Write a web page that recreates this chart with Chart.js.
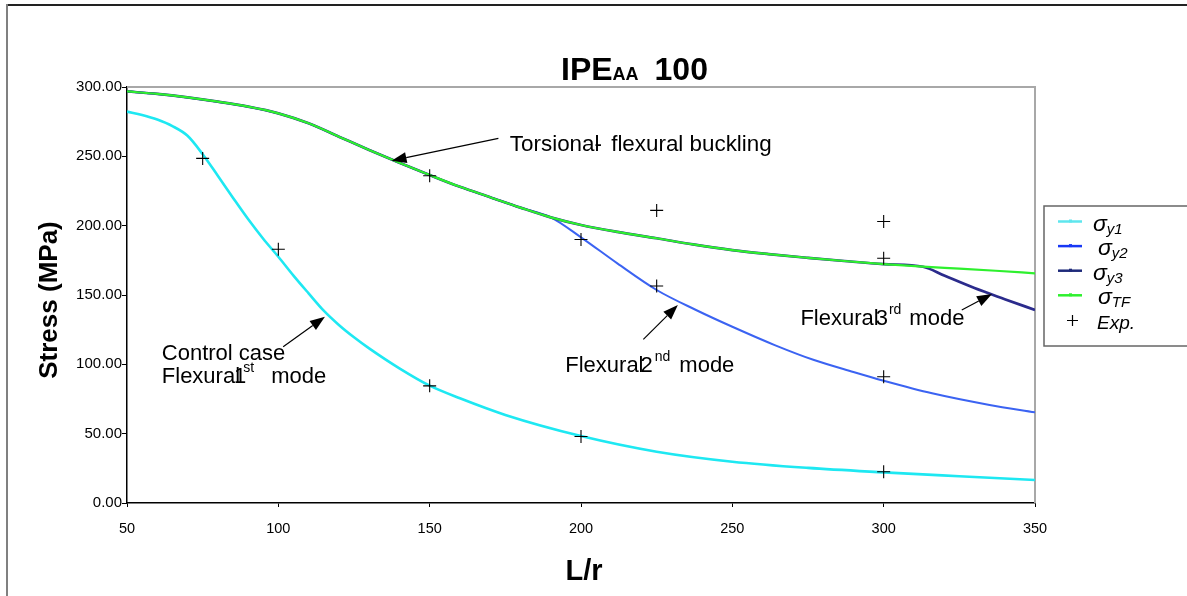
<!DOCTYPE html>
<html><head><meta charset="utf-8">
<script src="https://cdn.jsdelivr.net/npm/chart.js@4/dist/chart.umd.min.js"></script>
<style>html,body{margin:0;padding:0;background:#fff;}canvas{display:block;}</style>
</head><body>
<canvas id="c" width="1187" height="596"></canvas>
<script>
// ---- tick labels ----
const xTicks = [50, 100, 150, 200, 250, 300, 350];
const yTicks = [0, 50, 100, 150, 200, 250, 300];

// ---- sigma_y1 (flexural 1st mode) ----
const lrY1 = [50, 55, 60, 65, 70, 75, 80, 85, 90, 95, 100, 105, 110, 115, 120, 125, 130, 140, 150, 160, 175, 200, 225, 250, 275, 300, 325, 350];
const sigmaY1 = [282.3, 279.8, 276.5, 271.8, 264.8, 251.5, 236, 220.2, 204.8, 190.6, 177.6, 164, 151.2, 138.7, 128.4, 119.5, 111.5, 97.1, 84.6, 75.5, 63.5, 48.3, 37, 29.8, 25.3, 22.1, 19.3, 16.6];

// ---- sigma_y2 (flexural 2nd mode) ----
const lrY2 = [50, 60, 70, 80, 90, 100, 110, 120, 130, 140, 150, 160, 170, 180, 190, 200, 212, 225, 238, 250, 264, 277, 290, 300, 316, 335, 350];
const sigmaY2 = [296.8, 295, 292.5, 289.4, 285.8, 281, 273.8, 264.2, 254.6, 245.4, 236.5, 228, 220.5, 213, 206, 191.6, 172.8, 153.6, 139.2, 127.1, 113.9, 103.1, 94.5, 88.2, 79.1, 70.7, 65.4];

// ---- sigma_y3 (flexural 3rd mode) ----
const lrY3 = [50, 60, 70, 80, 90, 100, 110, 120, 130, 140, 150, 160, 170, 180, 190, 200, 212, 225, 237, 250, 262, 275, 287, 300, 313, 320, 330, 340, 350];
const sigmaY3 = [296.8, 295, 292.5, 289.4, 285.8, 281, 273.8, 264.2, 254.6, 245.4, 236.5, 228, 220.5, 213, 206, 200.5, 195.5, 190.9, 186.5, 182.4, 179.5, 176.8, 174.5, 172.3, 170.4, 164, 155, 147, 139.2];

// ---- sigma_TF (torsional-flexural) ----
const lrTF = [50, 60, 70, 80, 90, 100, 110, 120, 130, 140, 150, 160, 170, 180, 190, 200, 212, 225, 237, 250, 262, 275, 287, 300, 313, 325, 337, 350];
const sigmaTF = [296.8, 295, 292.5, 289.4, 285.8, 281, 273.8, 264.2, 254.6, 245.4, 236.5, 228, 220.5, 213, 206, 200.5, 195.5, 190.9, 186.5, 182.4, 179.5, 176.8, 174.5, 172.3, 170.4, 169, 167.5, 165.6];

// ---- experiments ----
const lrExp = [75, 100, 150, 150, 200, 200, 225, 225, 300, 300, 300, 300];
const sigmaExp = [248.5, 183, 236, 84.5, 190, 48, 211, 156.5, 203, 176.5, 91, 22.5];

const FONT = "'Liberation Sans', Arial, sans-serif";
Chart.defaults.font.family = FONT;
Chart.defaults.color = '#000';

const pts = (xs, ys) => xs.map((x, i) => ({x: x, y: ys[i]}));

// annotation anchors in data units
const annotations = [
  {lines: [[['Torsional', 22.4, 0, 0], ['-', 22.4, -5, 0], [' flexural buckling', 22.4, 3, 0]]], tx: 176.5, ty: 254.2, tail: [172.7, 263.0], tip: [137.4, 246.8]},
  {lines: [[['Flexural', 22, 0, 0], ['2', 22, -3, 0], ['nd', 14, 2, -11], ['mode', 22, 9, 0]]], tx: 194.8, ty: 94.7, tail: [220.6, 118.0], tip: [232.0, 142.8]},
  {lines: [[['Flexural', 22, 0, 0], ['3', 22, -3, 0], ['rd', 14, 1, -11], ['mode', 22, 8, 0]]], tx: 272.5, ty: 128.4, tail: [325.8, 139.2], tip: [335.8, 150.7]},
  {lines: [[['Control case', 22, 0, 0]], [['Flexural', 22, 0, 0], ['1', 22, -6, 0], ['st', 14, -3, -11], ['mode', 22, 17, 0]]], tx: 61.5, ty: 103.1, lh: 23.3, tail: [101.6, 112.7], tip: [115.4, 134.3]}
];

function arrow(ctx, x1, y1, x2, y2) {
  const ang = Math.atan2(y2 - y1, x2 - x1), L = 15, W = 5.5;
  ctx.beginPath(); ctx.moveTo(x1, y1);
  ctx.lineTo(x2 - L * Math.cos(ang), y2 - L * Math.sin(ang)); ctx.stroke();
  ctx.beginPath(); ctx.moveTo(x2, y2);
  ctx.lineTo(x2 - L * Math.cos(ang) + W * Math.sin(ang), y2 - L * Math.sin(ang) - W * Math.cos(ang));
  ctx.lineTo(x2 - L * Math.cos(ang) - W * Math.sin(ang), y2 - L * Math.sin(ang) + W * Math.cos(ang));
  ctx.closePath(); ctx.fill();
}

function rich(ctx, x, y, parts, weight, style) {
  let cx = x;
  for (const [t, size, dx, dy] of parts) {
    ctx.font = (style || '') + ' ' + (weight || '') + ' ' + size + 'px ' + FONT;
    cx += dx;
    ctx.fillText(t, cx, y + dy);
    cx += ctx.measureText(t).width;
  }
}

const deco = {
  id: 'deco',
  beforeDraw(chart) {
    const ctx = chart.ctx;
    ctx.save();
    ctx.fillStyle = '#fff'; ctx.fillRect(0, 0, chart.width, chart.height);
    ctx.strokeStyle = '#222'; ctx.lineWidth = 2;
    ctx.beginPath(); ctx.moveTo(7, 5); ctx.lineTo(1187, 5); ctx.stroke();
    ctx.strokeStyle = '#808080';
    ctx.beginPath(); ctx.moveTo(7, 4); ctx.lineTo(7, 596); ctx.stroke();
    ctx.restore();
  },
  beforeDatasetsDraw(chart) {
    const {ctx, chartArea: a} = chart;
    ctx.save();
    ctx.strokeStyle = '#a8a8a8'; ctx.lineWidth = 2;
    ctx.beginPath(); ctx.moveTo(a.left, a.top); ctx.lineTo(a.right, a.top); ctx.lineTo(a.right, a.bottom); ctx.stroke();
    ctx.restore();
  },
  afterDraw(chart) {
    const {ctx, scales: {x, y}, chartArea: a} = chart;
    ctx.save();
    ctx.fillStyle = '#000'; ctx.strokeStyle = '#000';
    ctx.textBaseline = 'alphabetic'; ctx.textAlign = 'left';
    // title
    rich(ctx, 561, 80, [['IPE', 32, 0, 0], ['AA', 18, 0, 0], ['100', 32, 16, 0]], 'bold');
    // axis titles
    ctx.font = 'bold 29px ' + FONT; ctx.textAlign = 'center';
    ctx.fillText('L/r', (a.left + a.right) / 2 + 3, 580);
    ctx.save(); ctx.translate(57, (a.top + a.bottom) / 2 + 5); ctx.rotate(-Math.PI / 2);
    ctx.font = 'bold 26px ' + FONT; ctx.fillText('Stress (MPa)', 0, 0); ctx.restore();
    ctx.textAlign = 'left';
    // annotations
    ctx.lineWidth = 1.2;
    for (const an of annotations) {
      const px = x.getPixelForValue(an.tx), py = y.getPixelForValue(an.ty);
      an.lines.forEach((ln, i) => rich(ctx, px, py + i * (an.lh || 0), ln));
      arrow(ctx, x.getPixelForValue(an.tail[0]), y.getPixelForValue(an.tail[1]), x.getPixelForValue(an.tip[0]), y.getPixelForValue(an.tip[1]));
    }
    // legend
    ctx.strokeStyle = '#666'; ctx.lineWidth = 1.5;
    ctx.strokeRect(1044, 206, 200, 140);
    const items = [
      ['#5ee6ee', 'y1', 1093], ['#1838f5', 'y2', 1098], ['#1e2a7a', 'y3', 1093], ['#2ef02e', 'TF', 1098]
    ];
    items.forEach(([col, sub, tx], i) => {
      const ly = 221.5 + i * 24.6;
      ctx.strokeStyle = col; ctx.lineWidth = 2.5;
      ctx.beginPath(); ctx.moveTo(1058, ly); ctx.lineTo(1082, ly); ctx.stroke();
      ctx.fillStyle = col; ctx.fillRect(1069, ly - 2, 3, 3);
      ctx.fillStyle = '#000';
      ctx.font = 'italic 23px ' + FONT; ctx.fillText('σ', tx, ly + 9);
      const w = ctx.measureText('σ').width;
      ctx.font = 'italic 15px ' + FONT; ctx.fillText(sub, tx + w, ly + 12);
    });
    ctx.strokeStyle = '#000'; ctx.lineWidth = 1.2;
    ctx.beginPath(); ctx.moveTo(1067, 320.5); ctx.lineTo(1078, 320.5); ctx.moveTo(1072.5, 315); ctx.lineTo(1072.5, 326); ctx.stroke();
    ctx.font = 'italic 19px ' + FONT; ctx.fillText('Exp.', 1097, 329);
    ctx.restore();
  }
};

new Chart(document.getElementById('c'), {
  type: 'line',
  data: {
    datasets: [
      {label: 'σy1', data: pts(lrY1, sigmaY1), borderColor: '#1ee8f2', borderWidth: 2.6, pointRadius: 0, cubicInterpolationMode: 'monotone', order: 4},
      {label: 'σy2', data: pts(lrY2, sigmaY2), borderColor: '#3b63f2', borderWidth: 2, pointRadius: 0, cubicInterpolationMode: 'monotone', order: 3},
      {label: 'σy3', data: pts(lrY3, sigmaY3), borderColor: '#2b2b8c', borderWidth: 2.7, pointRadius: 0, cubicInterpolationMode: 'monotone', order: 2},
      {label: 'σTF', data: pts(lrTF, sigmaTF), borderColor: '#2ef02e', borderWidth: 2.2, pointRadius: 0, cubicInterpolationMode: 'monotone', order: 1},
      {label: 'Exp.', data: pts(lrExp, sigmaExp), showLine: false, pointStyle: 'cross', pointRadius: 6.5, borderColor: '#000', borderWidth: 1.1, order: 0}
    ]
  },
  options: {
    responsive: false, animation: false, devicePixelRatio: 1,
    layout: {padding: {left: 0, top: 87, right: 152, bottom: 0}},
    plugins: {legend: {display: false}, title: {display: false}, tooltip: {enabled: false}},
    scales: {
      x: {
        type: 'linear', min: 50, max: 350,
        afterFit(s) { s.height = 93; },
        afterBuildTicks(s) { s.ticks = xTicks.map(v => ({value: v})); },
        ticks: {font: {size: 14.5}, color: '#000', padding: 13, maxRotation: 0, autoSkip: false},
        grid: {drawOnChartArea: false, tickLength: 4, color: '#000', lineWidth: 1},
        border: {color: '#000', width: 1.5}
      },
      y: {
        type: 'linear', min: 0, max: 300,
        afterFit(s) { s.width = 127; },
        afterBuildTicks(s) { s.ticks = yTicks.map(v => ({value: v})); },
        ticks: {font: {size: 15}, color: '#000', padding: 0, autoSkip: false, callback: v => Number(v).toFixed(2)},
        grid: {drawOnChartArea: false, tickLength: 5, color: '#000', lineWidth: 1},
        border: {color: '#000', width: 1.5}
      }
    }
  },
  plugins: [deco]
});
</script>
</body></html>
